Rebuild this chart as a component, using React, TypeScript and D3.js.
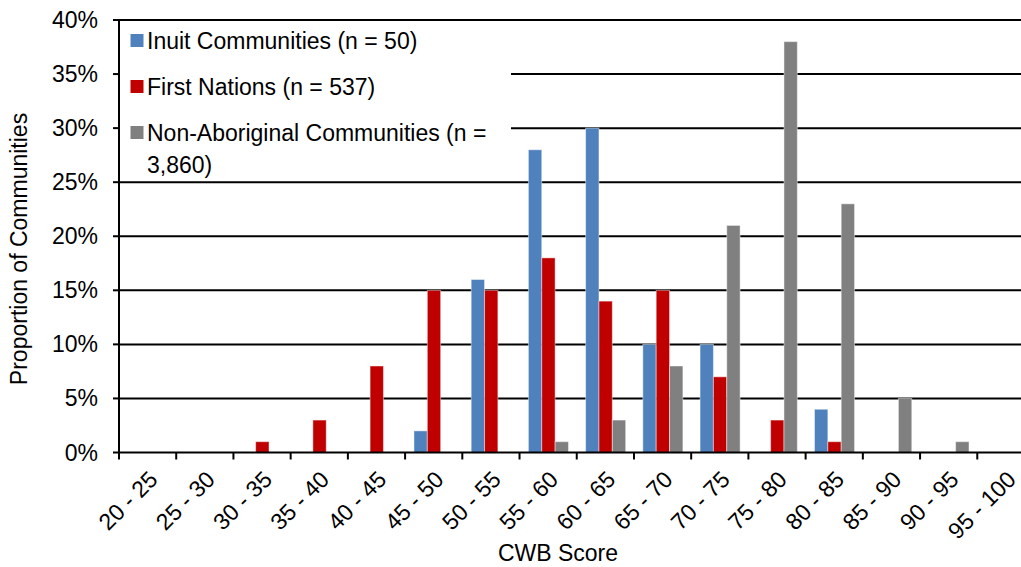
import React from "react";
import * as d3 from "d3";

const categories = ["20 - 25", "25 - 30", "30 - 35", "35 - 40", "40 - 45", "45 - 50", "50 - 55", "55 - 60", "60 - 65", "65 - 70", "70 - 75", "75 - 80", "80 - 85", "85 - 90", "90 - 95", "95 - 100"];
const inuit = [0, 0, 0, 0, 0, 2, 16, 28, 30, 10, 10, 0, 4, 0, 0, 0];
const firstNations = [0, 0, 1, 3, 8, 15, 15, 18, 14, 15, 7, 3, 1, 0, 0, 0];
const nonAboriginal = [0, 0, 0, 0, 0, 0, 0, 1, 3, 8, 21, 38, 23, 5, 1, 0];
const seriesNames = ["Inuit Communities (n = 50)", "First Nations (n = 537)", "Non-Aboriginal Communities (n = 3,860)"];
const seriesColors = ["#4F81BD", "#C00000", "#808080"];
const yTicks = [0, 5, 10, 15, 20, 25, 30, 35, 40];

const W = 1021, H = 567;
const left = 119, right = 1034.5, top = 20, bottom = 452.5;
const FONT = "'Liberation Sans', Arial, sans-serif";
const FS = 23;

export default function App() {
  const series = [inuit, firstNations, nonAboriginal];
  const x0 = d3.scaleBand<string>().domain(categories).range([left, right]).paddingInner(0).paddingOuter(0);
  const bw = x0.bandwidth();
  const x1 = d3.scaleBand<number>().domain([0, 1, 2]).range([bw * 0.155, bw * 0.855]).padding(0);
  const y = d3.scaleLinear().domain([0, 40]).range([bottom, top]);

  return (
    <div style={{ position: "absolute", left: 0, top: 0 }}>
      <svg width={W} height={H} style={{ display: "block", background: "#fff" }} fontFamily={FONT}>
        {/* gridlines */}
        {yTicks.filter((t) => t > 0).map((t) => (
          <line key={t} x1={left} x2={right} y1={y(t)} y2={y(t)} stroke="#000" strokeWidth={2} />
        ))}
        {/* legend background */}
        <rect x={left + 1} y={y(40) + 2} width={511 - left - 1} height={178 - y(40) - 2} fill="#fff" />
        {/* bars */}
        {series.map((s, si) =>
          s.map((v, i) =>
            v > 0 ? (
              <rect
                key={`${si}-${i}`}
                x={(x0(categories[i]) as number) + (x1(si) as number)}
                y={y(v)}
                width={x1.bandwidth()}
                height={y(0) - y(v)}
                fill={seriesColors[si]}
                stroke="#fff"
                strokeOpacity={0.45}
                strokeWidth={1}
              />
            ) : null
          )
        )}
        {/* axes */}
        <line x1={left} x2={left} y1={top - 1} y2={bottom + 1} stroke="#000" strokeWidth={2} />
        <line x1={left} x2={right} y1={bottom} y2={bottom} stroke="#000" strokeWidth={2} />
        {yTicks.map((t) => (
          <g key={t}>
            <line x1={left - 6} x2={left} y1={y(t)} y2={y(t)} stroke="#000" strokeWidth={2} />
            <text x={98} y={y(t)} dy="0.35em" textAnchor="end" fontSize={FS} fill="#000">
              {t}%
            </text>
          </g>
        ))}
        {categories.map((c, i) => (
          <line key={"t" + c} x1={left + i * bw} x2={left + i * bw} y1={bottom} y2={bottom + 7} stroke="#000" strokeWidth={2} />
        ))}
        <line x1={right} x2={right} y1={bottom} y2={bottom + 7} stroke="#000" strokeWidth={2} />
        {categories.map((c) => {
          const cx = (x0(c) as number) + bw / 2;
          return (
            <text key={"l" + c} transform={`translate(${cx},${bottom + 17}) rotate(-45)`} textAnchor="end" dy="0.7em" fontSize={FS} fill="#000">
              {c}
            </text>
          );
        })}
        <text x={558} y={561} textAnchor="middle" fontSize={FS} fill="#000">CWB Score</text>
        <text transform={`translate(27,${249}) rotate(-90)`} textAnchor="middle" fontSize={FS} fill="#000">
          Proportion of Communities
        </text>
        {/* legend */}
        {[0, 1, 2].map((i) => (
          <rect key={"sw" + i} x={130.5} y={[34, 80, 126][i]} width={13} height={13} fill={seriesColors[i]} />
        ))}
        <text x={147} y={49} fontSize={FS} fill="#000">{seriesNames[0]}</text>
        <text x={147} y={95} fontSize={FS} fill="#000">{seriesNames[1]}</text>
        <text x={147} y={141} fontSize={FS} fill="#000">Non-Aboriginal Communities (n =</text>
        <text x={147} y={173} fontSize={FS} fill="#000">3,860)</text>
      </svg>
    </div>
  );
}
